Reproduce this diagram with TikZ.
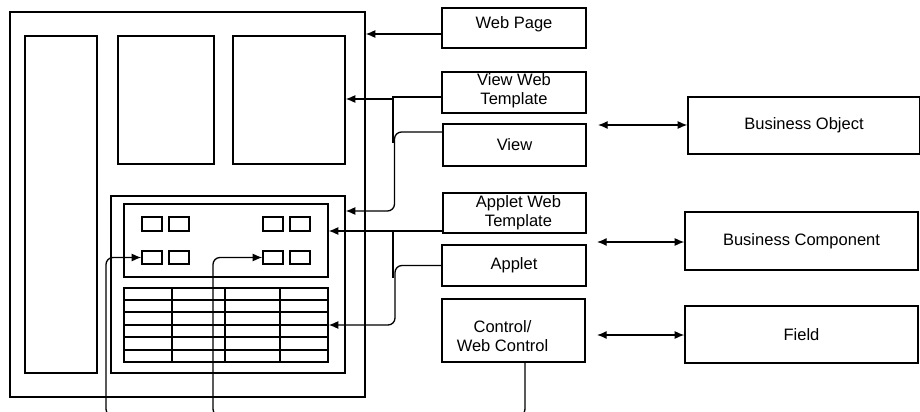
\documentclass[tikz,border=0pt]{standalone}
\usepackage{fontspec}
\setmainfont{Liberation Sans}
\usepackage{tikz}
\usetikzlibrary{arrows.meta}
\usetikzlibrary{fit}

\begin{document}
\begin{tikzpicture}[x=0.02cm, y=-0.02cm, line width=0.75pt,
        >={Latex[length=5.5pt,width=4.6pt]},
        font=\fontsize{9.4}{10.8}\selectfont,
        frame/.style={draw, inner sep=0pt},
        box/.style={draw, inner sep=0pt},
        btn/.style={draw, inner sep=0pt}]
    \useasboundingbox (0,0) rectangle (920,412);
    \clip (0,0) rectangle (920,412);
    % page layout
    \node[frame, fit={(10,12) (365,397)}] (page) {};
    \node[frame, fit={(25,36) (97,373)}] (side) {};
    \node[frame, fit={(118,36) (214,164)}] (lpanel) {};
    \node[frame, fit={(233,36) (345,164)}] (rpanel) {};
    \node[frame, fit={(111,196) (345,373)}] (appletframe) {};
    \node[frame, fit={(124,204) (328,277)}] (form) {};
    \node[frame, fit={(124,288) (328,362)}] (grid) {};
    \foreach \x in {172,225,280}
        \draw (\x,288) -- (\x,362);
    \foreach \y in {300,312,325,337,350}
        \draw (124,\y) -- (328,\y);
    \foreach \x [count=\i] in {142,169,263,290} {
        \node[btn, fit={(\x,217) (\x+20,231)}] (b1\i) {};
        \node[btn, fit={(\x,251) (\x+20,264)}] (b2\i) {};
    }
    % object boxes
    \node[box, fit={(442,8) (586,48)},
        label={[name=webpagetext, yshift=0.08cm]center:Web Page}] (webpage) {};
    \node[box, fit={(442,72) (586,113)},
        label={[name=vwttext, align=center, yshift=0.03cm]center:{View Web\\Template}}] (vwt) {};
    \node[box, fit={(443,124) (586,166)},
        label={[name=viewtext]center:View}] (view) {};
    \node[box, fit={(443,193) (586,233)},
        label={[name=awttext, align=center, xshift=0.08cm]center:{Applet Web\\Template}}] (awt) {};
    \node[box, fit={(442,245) (586,286)},
        label={[name=applettext]center:Applet}] (applet) {};
    \node[box, fit={(442,299) (585,362)},
        label={[name=cwctext, align=center, xshift=-0.22cm, yshift=-0.12cm]center:{Control/\\Web Control}}] (cwc) {};
    \node[box, fit={(688,97) (920,154)},
        label={[name=botext]center:Business Object}] (bo) {};
    \node[box, fit={(685,212) (918,270)},
        label={[name=bctext]center:Business Component}] (bc) {};
    \node[box, fit={(685,306) (918,363)},
        label={[name=fieldtext]center:Field}] (field) {};
    \coordinate (boL) at (598,125);
    \coordinate (bcL) at (597,242);
    \coordinate (fieldL) at (597,335);
    % connectors
    \draw[->] (webpage.west |- 0,34) -- (page.east |- 0,34);
    \draw[->] (vwt.west |- 0,97) -| (393,99) -- (rpanel.east |- 0,99);
    \draw (393,99) -- (393,143);
    \draw[->, rounded corners=4pt] (view.west |- 0,132) -| (394.5,211) -- (appletframe.east |- 0,211);
    \draw[->] (awt.west |- 0,231) -- (form.east |- 0,231);
    \draw (393,231) -- (393,278);
    \draw[->, rounded corners=4pt] (applet.west) -| (395,325) -- (grid.east |- 0,325);
    \draw[->, rounded corners=4pt] (cwc.south -| 525,0) |- (106,416) |- (b21.west);
    \draw[->, rounded corners=4pt] (240,416) -- (213,416) |- (b23.west);
    \draw[<->] (boL) -- (boL -| bo.west);
    \draw[<->] (bcL) -- (bcL -| bc.west);
    \draw[<->] (fieldL) -- (fieldL -| field.west);
\end{tikzpicture}
\end{document}
